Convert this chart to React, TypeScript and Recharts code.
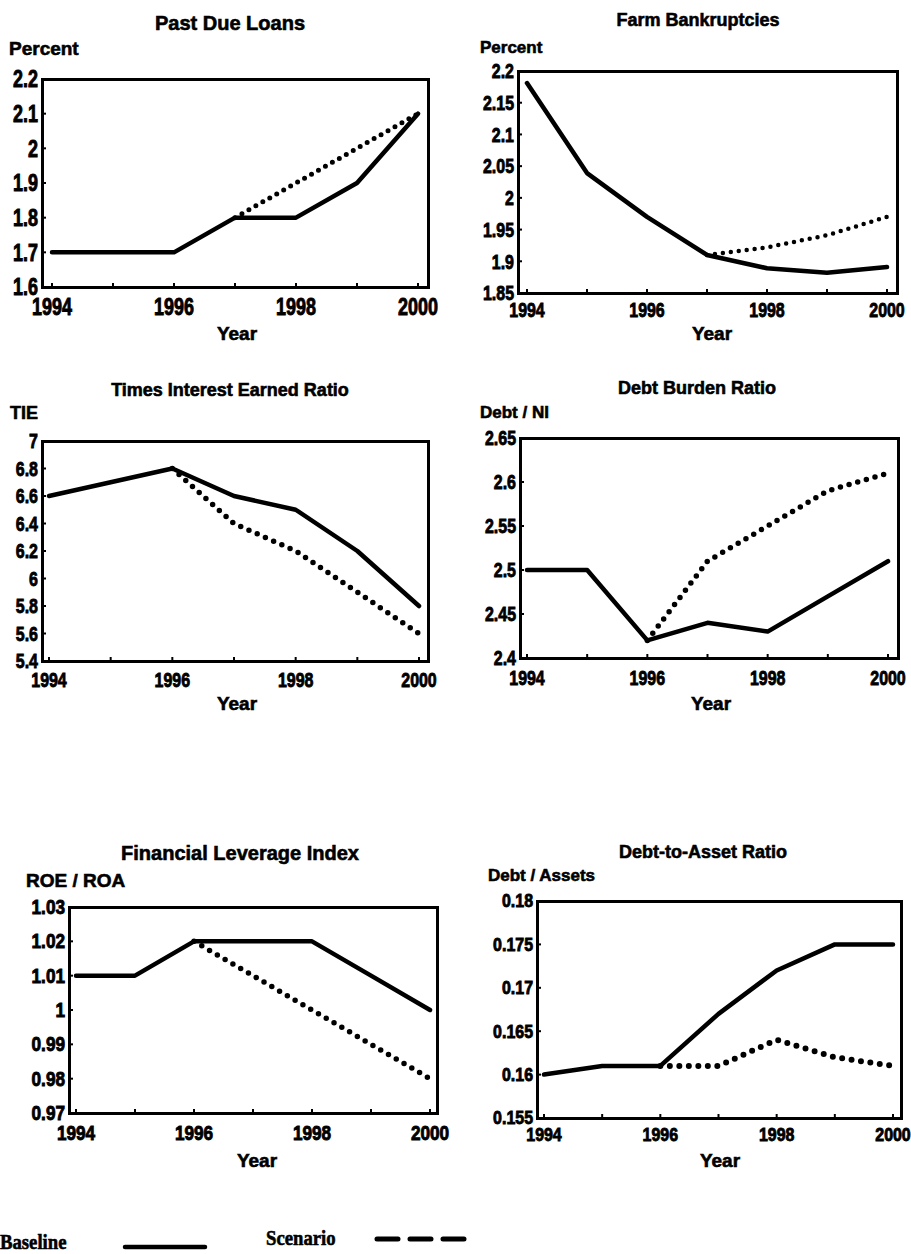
import React from 'react';
import { LineChart, Line, XAxis, YAxis } from 'recharts';

// ---- data ----
const YEARS = [1994, 1995, 1996, 1997, 1998, 1999, 2000];
const YEAR_LABELS = [1994, 1996, 1998, 2000];

const pastDueBaseline = [1.7, 1.7, 1.7, 1.8, 1.8, 1.9, 2.1];
const pastDueScenario = [null, null, null, 1.8, 1.9, 2.0, 2.1];
const pastDueTicks = [1.6, 1.7, 1.8, 1.9, 2, 2.1, 2.2];

const bankruptBaseline = [2.181, 2.039, 1.97, 1.91, 1.889, 1.882, 1.891];
const bankruptScenario = [null, null, null, 1.91, 1.922, 1.941, 1.97];
const bankruptTicks = [1.85, 1.9, 1.95, 2, 2.05, 2.1, 2.15, 2.2];

const tieBaseline = [6.6, 6.7, 6.8, 6.6, 6.5, 6.2, 5.8];
const tieScenario = [null, null, 6.8, 6.4, 6.2, 5.9, 5.6];
const tieTicks = [5.4, 5.6, 5.8, 6, 6.2, 6.4, 6.6, 6.8, 7];

const debtBurdenBaseline = [2.5, 2.5, 2.42, 2.44, 2.43, 2.47, 2.51];
const debtBurdenScenario = [null, null, 2.42, 2.51, 2.55, 2.59, 2.61];
const debtBurdenTicks = [2.4, 2.45, 2.5, 2.55, 2.6, 2.65];

const leverageBaseline = [1.01, 1.01, 1.02, 1.02, 1.02, 1.01, 1.0];
const leverageScenario = [null, null, 1.02, 1.01, 1.0, 0.99, 0.98];
const leverageTicks = [0.97, 0.98, 0.99, 1, 1.01, 1.02, 1.03];

const debtAssetBaseline = [0.16, 0.161, 0.161, 0.167, 0.172, 0.175, 0.175];
const debtAssetScenario = [null, null, 0.161, 0.161, 0.164, 0.162, 0.161];
const debtAssetTicks = [0.155, 0.16, 0.165, 0.17, 0.175, 0.18];

type Series = (number | null)[];

const SANS = '"Liberation Sans", Arial, sans-serif';
const SERIF = '"Liberation Serif", "Times New Roman", serif';

const AXIS_W = 80;
const RIGHT_M = 30;
const TOP_M = 20;
const BOTTOM_H = 70;

function buildRows(baseline: Series, scenario: Series) {
  return YEARS.map((year, i) => ({ year, baseline: baseline[i], scenario: scenario[i] }));
}

interface PanelProps {
  frame: [number, number, number, number];
  pad: [number, number];
  domain: [number, number];
  ticks: number[];
  baseline: Series;
  scenario: Series;
  title: string;
  titleAt: [number, number];
  titleSize: number;
  unit: string;
  unitAt: [number, number];
  unitSize: number;
  yearAt: [number, number];
  tickSize: number;
  tickStretch: number;
  xLabelDy: number;
  dotWidth: number;
  dotGap: number;
}

function Text({ at, size, children, anchor = 'middle', family = SANS, stretch = 1 }: any) {
  return (
    <div
      style={{
        position: 'absolute',
        left: at[0],
        top: at[1],
        transformOrigin: anchor === 'middle' ? 'center' : 'left center',
        transform:
          (anchor === 'middle' ? 'translate(-50%, -50%)' : 'translate(0, -50%)') + ` scale(${stretch}, 1)`,
        fontFamily: family,
        fontWeight: 700,
        fontSize: size,
        lineHeight: 1,
        whiteSpace: 'nowrap',
        color: '#000',
        WebkitTextStroke: '0.6px #000',
      }}
    >
      {children}
    </div>
  );
}

function Panel(p: PanelProps) {
  const [l, t, r, b] = p.frame;
  const w = r - l;
  const h = b - t;
  const data = buildRows(p.baseline, p.scenario);
  const textStyle = {
    fontFamily: SANS,
    fontWeight: 700,
    fontSize: p.tickSize,
    fill: '#000',
    stroke: '#000',
    strokeWidth: 0.9,
  };

  const xTick = (props: any) => {
    const { x, y, payload } = props;
    return (
      <g>
        <line x1={x} x2={x} y1={y} y2={y - 4} stroke="#000" strokeWidth={2} />
        {YEAR_LABELS.includes(payload.value) && (
          <text
            transform={`translate(${x},${y + p.xLabelDy}) scale(${p.tickStretch},1)`}
            textAnchor="middle"
            dominantBaseline="central"
            style={textStyle}
          >
            {payload.value}
          </text>
        )}
      </g>
    );
  };

  const yTick = (props: any) => {
    const { x, y, payload } = props;
    return (
      <g>
        <line x1={x} x2={x + 4} y1={y} y2={y} stroke="#000" strokeWidth={2} />
        <text
          transform={`translate(${x - 4},${y}) scale(${p.tickStretch},1)`}
          textAnchor="end"
          dominantBaseline="central"
          style={textStyle}
        >
          {payload.value}
        </text>
      </g>
    );
  };

  return (
    <>
      <div
        style={{
          position: 'absolute',
          left: l - AXIS_W,
          top: t - TOP_M,
          width: w + AXIS_W + RIGHT_M,
          height: h + TOP_M + BOTTOM_H,
        }}
      >
        <LineChart
          width={w + AXIS_W + RIGHT_M}
          height={h + TOP_M + BOTTOM_H}
          data={data}
          margin={{ top: TOP_M, right: RIGHT_M, bottom: 0, left: 0 }}
        >
          <XAxis
            dataKey="year"
            type="number"
            domain={[1994, 2000]}
            ticks={YEARS}
            interval={0}
            padding={{ left: p.pad[0], right: p.pad[1] }}
            axisLine={false}
            tickLine={false}
            tickSize={0}
            tickMargin={0}
            height={BOTTOM_H}
            tick={xTick}
          />
          <YAxis
            type="number"
            domain={p.domain}
            ticks={p.ticks}
            interval={0}
            allowDataOverflow
            axisLine={false}
            tickLine={false}
            tickSize={0}
            tickMargin={0}
            width={AXIS_W}
            tick={yTick}
          />
          <Line
            dataKey="scenario"
            stroke="#000"
            strokeWidth={p.dotWidth}
            strokeDasharray={`0 ${p.dotGap}`}
            strokeLinecap="round"
            dot={false}
            isAnimationActive={false}
          />
          <Line
            dataKey="baseline"
            stroke="#000"
            strokeWidth={4.5}
            strokeLinejoin="round"
            strokeLinecap="round"
            dot={false}
            isAnimationActive={false}
          />
        </LineChart>
      </div>
      <div
        style={{
          position: 'absolute',
          left: l - 1.5,
          top: t - 1.5,
          width: w + 3,
          height: h + 3,
          border: '3px solid #000',
          boxSizing: 'border-box',
          pointerEvents: 'none',
        }}
      />
      <Text at={p.titleAt} size={p.titleSize}>{p.title}</Text>
      <Text at={p.unitAt} size={p.unitSize} anchor="start">{p.unit}</Text>
      <Text at={p.yearAt} size={19}>Year</Text>
    </>
  );
}

export default function App() {
  return (
    <div style={{ position: 'absolute', left: 0, top: 0, width: 911, height: 1254, background: '#fff', overflow: 'hidden' }}>
      <Panel
        frame={[42, 79, 428, 287]}
        pad={[10, 10]}
        domain={[1.6, 2.2]}
        ticks={pastDueTicks}
        baseline={pastDueBaseline}
        scenario={pastDueScenario}
        title="Past Due Loans"
        titleAt={[230, 23]}
        titleSize={20}
        unit="Percent"
        unitAt={[9, 48]}
        unitSize={19}
        yearAt={[237, 333]}
        tickSize={23}
        tickStretch={0.78}
        xLabelDy={20}
        dotWidth={5}
        dotGap={8}
      />
      <Panel
        frame={[518, 71, 897, 293]}
        pad={[9, 10]}
        domain={[1.85, 2.2]}
        ticks={bankruptTicks}
        baseline={bankruptBaseline}
        scenario={bankruptScenario}
        title="Farm Bankruptcies"
        titleAt={[698, 20]}
        titleSize={18}
        unit="Percent"
        unitAt={[480, 47]}
        unitSize={17}
        yearAt={[712, 333]}
        tickSize={21}
        tickStretch={0.76}
        xLabelDy={17}
        dotWidth={4.5}
        dotGap={8}
      />
      <Panel
        frame={[42, 441, 428, 661]}
        pad={[7, 9]}
        domain={[5.4, 7]}
        ticks={tieTicks}
        baseline={tieBaseline}
        scenario={tieScenario}
        title="Times Interest Earned Ratio"
        titleAt={[230, 390]}
        titleSize={18}
        unit="TIE"
        unitAt={[10, 413]}
        unitSize={18}
        yearAt={[237, 703]}
        tickSize={21}
        tickStretch={0.76}
        xLabelDy={19}
        dotWidth={5.5}
        dotGap={9}
      />
      <Panel
        frame={[520, 438, 898, 658]}
        pad={[7, 10]}
        domain={[2.4, 2.65]}
        ticks={debtBurdenTicks}
        baseline={debtBurdenBaseline}
        scenario={debtBurdenScenario}
        title="Debt Burden Ratio"
        titleAt={[697, 388]}
        titleSize={18}
        unit="Debt / NI"
        unitAt={[480, 412]}
        unitSize={17}
        yearAt={[711, 703]}
        tickSize={21}
        tickStretch={0.76}
        xLabelDy={20}
        dotWidth={5.5}
        dotGap={9}
      />
      <Panel
        frame={[69, 907, 437, 1113]}
        pad={[7, 7]}
        domain={[0.97, 1.03]}
        ticks={leverageTicks}
        baseline={leverageBaseline}
        scenario={leverageScenario}
        title="Financial Leverage Index"
        titleAt={[240, 853]}
        titleSize={20}
        unit="ROE / ROA"
        unitAt={[26, 880]}
        unitSize={19}
        yearAt={[257, 1160]}
        tickSize={20}
        tickStretch={0.86}
        xLabelDy={20}
        dotWidth={5.5}
        dotGap={9}
      />
      <Panel
        frame={[537, 901, 901, 1118]}
        pad={[7, 8]}
        domain={[0.155, 0.18]}
        ticks={debtAssetTicks}
        baseline={debtAssetBaseline}
        scenario={debtAssetScenario}
        title="Debt-to-Asset Ratio"
        titleAt={[703, 852]}
        titleSize={18}
        unit="Debt / Assets"
        unitAt={[488, 875]}
        unitSize={17}
        yearAt={[720, 1160]}
        tickSize={19}
        tickStretch={0.84}
        xLabelDy={17}
        dotWidth={6}
        dotGap={9.5}
      />

      {/* series key */}
      <Text at={[0, 1242]} size={22} anchor="start" family={SERIF} stretch={0.85}>Baseline</Text>
      <svg style={{ position: 'absolute', left: 120, top: 1237, overflow: 'visible' }} width={90} height={20}>
        <line x1={5} x2={85} y1={10} y2={10} stroke="#000" strokeWidth={4.5} strokeLinecap="round" />
      </svg>
      <Text at={[266, 1238]} size={22} anchor="start" family={SERIF} stretch={0.85}>Scenario</Text>
      <svg style={{ position: 'absolute', left: 370, top: 1229, overflow: 'visible' }} width={110} height={20}>
        <line x1={7} x2={102} y1={10} y2={10} stroke="#000" strokeWidth={5} strokeLinecap="round" strokeDasharray="21 12" />
      </svg>
    </div>
  );
}
